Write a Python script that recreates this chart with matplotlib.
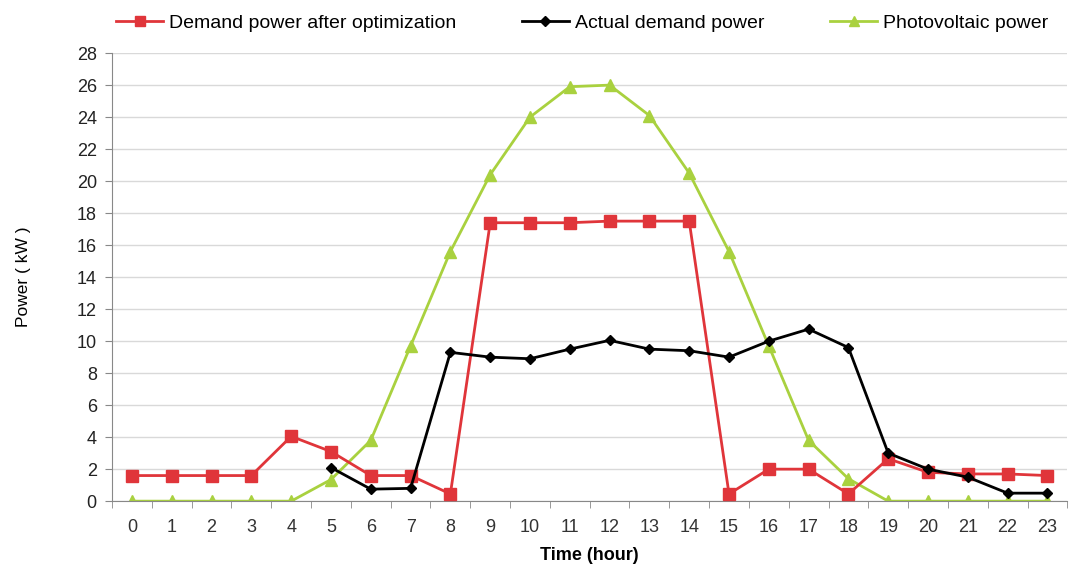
import matplotlib
matplotlib.use("Agg")
import matplotlib.pyplot as plt
import numpy as np

hours = list(range(24))
tick_labels = [str(h) for h in hours]
optimized = [1.6, 1.6, 1.6, 1.6, 4.05, 3.1, 1.6, 1.6, 0.45, 17.4, 17.4, 17.4, 17.5, 17.5, 17.5,
             0.45, 2.0, 2.0, 0.45, 2.65, 1.8, 1.7, 1.7, 1.6]
actual_hours = list(range(5, 24))
actual = [2.1, 0.75, 0.8, 9.3, 9.0, 8.9, 9.5, 10.05, 9.5, 9.4, 9.0, 10.0, 10.75, 9.6,
          3.0, 2.0, 1.5, 0.5, 0.5]
pv = [0, 0, 0, 0, 0, 1.35, 3.8, 9.7, 15.6, 20.4, 24.0, 25.9, 26.0, 24.1, 20.5, 15.6,
      9.7, 3.8, 1.4, 0, 0, 0, 0, 0]

plt.rcParams['font.family'] = ['Liberation Sans', 'DejaVu Sans']

fig = plt.figure(figsize=(10.88, 5.65), dpi=100)
ax = fig.add_axes([0.103, 0.113, 0.878, 0.793])

red = '#E0353A'
green = '#A9D13F'
ax.plot(hours, optimized, color=red, marker='s', markersize=9, linewidth=2,
        label='Demand power after optimization', zorder=3)
ax.plot(actual_hours, actual, color='black', marker='D', markersize=5.5, linewidth=2,
        label='Actual demand power', zorder=4)
ax.plot(hours, pv, color=green, marker='^', markersize=8, linewidth=2,
        label='Photovoltaic power', zorder=2)

ax.set_xlim(-0.5, 23.5)
ax.set_ylim(0, 28)
ax.set_yticks(np.arange(0, 29, 2))
ax.set_xticks(hours)
ax.set_xticklabels(tick_labels)
ax.set_xticks(np.arange(-0.5, 24, 1), minor=True)
ax.tick_params(axis='x', which='major', length=0, labelsize=13, colors='#333333', pad=13)
ax.tick_params(axis='x', which='minor', length=5, direction='out', color='#888888')
ax.tick_params(axis='y', length=5, direction='out', color='#888888', labelsize=13,
               labelcolor='#222222', pad=6)
ax.grid(axis='y', color='#d9d9d9', linewidth=1)
ax.set_axisbelow(True)
for s in ['top', 'right']:
    ax.spines[s].set_visible(False)
for s in ['left', 'bottom']:
    ax.spines[s].set_color('#888888')

ax.set_xlabel('Time (hour)', fontsize=13, fontweight='bold', labelpad=8)
ax.set_ylabel('Power ( kW )', fontsize=12.5, labelpad=33)

fig.legend(loc='upper center', bbox_to_anchor=(0.535, 1.005), ncol=3, frameon=False,
           fontsize=14, columnspacing=3.4, handlelength=2.4, handletextpad=0.3,
           markerscale=0.85)

fig.savefig('out.png', dpi=100)
